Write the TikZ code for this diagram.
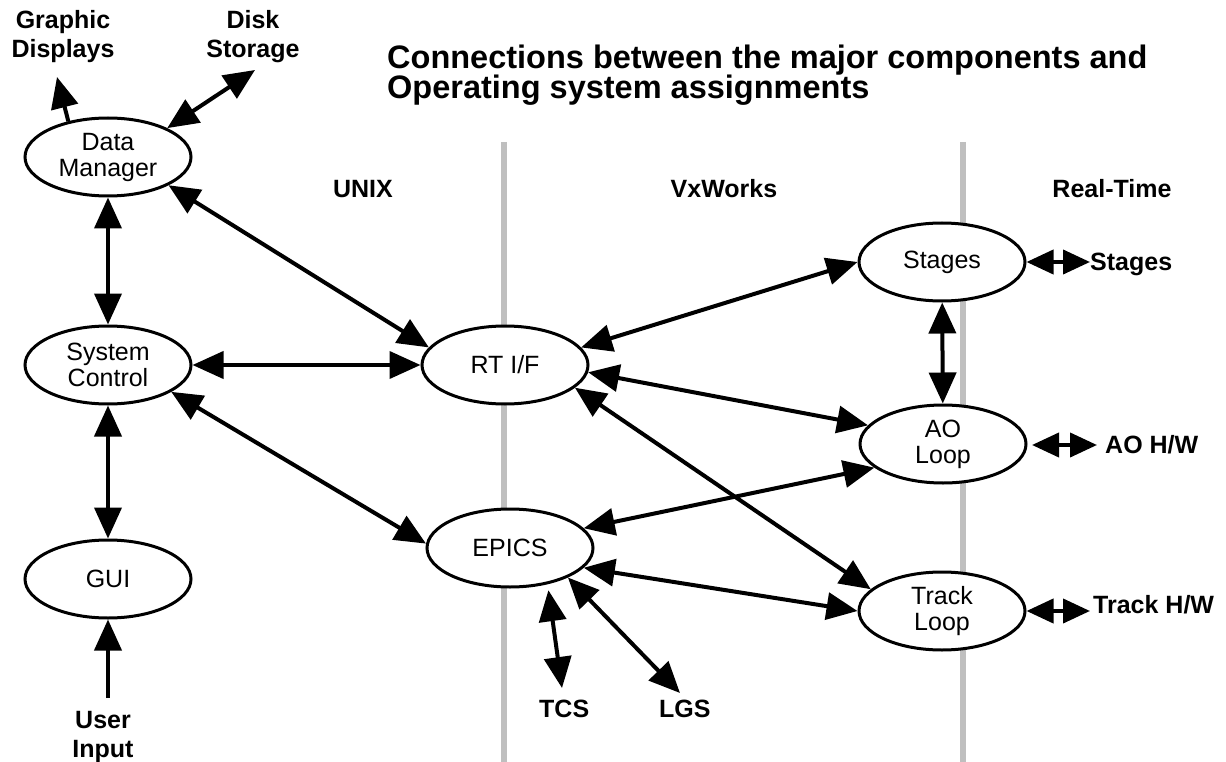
\documentclass[tikz,border=0pt]{standalone}
\usepackage{fontspec}
\setmainfont{Liberation Sans}
\usetikzlibrary{arrows.meta,shapes.geometric}
\begin{document}
\begin{tikzpicture}[x=1pt,y=-1pt,
  comp/.style={ellipse,draw,line width=3pt,fill=white,minimum width=166pt,minimum height=78pt,inner sep=0pt,align=center,font=\fontsize{25}{26}\selectfont},
  lbl/.style={font=\fontsize{25}{29}\selectfont\bfseries,align=center,inner sep=0pt},
  ttl/.style={font=\fontsize{32.5}{31}\selectfont\bfseries,inner sep=0pt,anchor=base west},
  conn/.style={line width=4pt,{Triangle[length=31pt,width=27pt]}-{Triangle[length=31pt,width=27pt]}},
  shortconn/.style={line width=4pt,{Triangle[length=27pt,width=24pt]}-{Triangle[length=27pt,width=24pt]}},
  oneway/.style={line width=4pt,-{Triangle[length=31pt,width=27pt]}},
  divider/.style={line width=6pt,draw=black!25}]
\useasboundingbox (0,0) rectangle (1226,762);

% dividers
\coordinate (d1t) at (504,142); \coordinate (d1b) at (504,762);
\coordinate (d2t) at (963,142); \coordinate (d2b) at (963,762);
\draw[divider] (d1t) -- (d1b);
\draw[divider] (d2t) -- (d2b);

% title
\node[ttl] (t1) at (387,69) {Connections between the major components and};
\node[ttl] (t2) at (387,99) {Operating system assignments};

% region labels
\node[lbl] (unix) at (363,189) {UNIX};
\node[lbl] (vx) at (724,189) {VxWorks};
\node[lbl] (rtm) at (1112,189) {Real-Time};

% components
\node[comp] (dm) at (108,157) {Data\\Manager};
\node[comp] (sc) at (108,365) {System\\Control};
\node[comp] (gui) at (108,579) {GUI};
\node[comp] (rt) at (505,365) {RT I/F};
\node[comp] (ep) at (510,548) {EPICS};
\node[comp] (st) at (942,262) {Stages};
\node[comp] (ao) at (943,444) {AO\\Loop};
\node[comp] (tr) at (942,611) {Track\\Loop};

% external labels
\node[lbl] (gd) at (63,37) {Graphic\\Displays};
\node[lbl] (ds) at (253,37) {Disk\\Storage};
\node[lbl] (ui) at (103,737) {User\\Input};
\node[lbl,anchor=base west] (sthw) at (1090,270) {Stages};
\node[lbl,anchor=base west] (aohw) at (1105,453) {AO H/W};
\node[lbl,anchor=base west] (trhw) at (1093,613) {Track H/W};
\node[lbl,anchor=base west] (tcs) at (539,717) {TCS};
\node[lbl,anchor=base west] (lgs) at (659,717) {LGS};

% free ends
\coordinate (gdtip) at (57,77);
\coordinate (dstip) at (255,70);
\coordinate (uitop) at (108,698);
\coordinate (tcstip) at (562,688);
\coordinate (lgstip) at (680,693);
\coordinate (sttip) at (1090,262);
\coordinate (aostart) at (1032,445);
\coordinate (aotip) at (1097,445);
\coordinate (trtip) at (1090,611);

% connectors
\draw[oneway] (dm.138) -- (gdtip);
\draw[conn] (dm.26) -- (dstip);
\draw[conn] (dm) -- (sc);
\draw[conn] (sc) -- (gui);
\draw[oneway] (uitop) -- (gui);
\draw[conn] (dm.-25) -- (rt.167);
\draw[conn] (sc) -- (rt);
\draw[conn] (sc.-23) -- (ep.177);
\draw[conn] (rt.13) -- (st.west);
\draw[conn] (rt.-5) -- (ao.166);
\draw[conn] (rt.-18) -- (tr.163);
\draw[conn] (ep.15) -- (ao.199);
\draw[conn] (ep.-15) -- (tr.west);
\draw[conn,shorten <=6pt] (ep.-44) -- (tcstip);
\draw[conn] (ep.-27) -- (lgstip);
\draw[conn] (st) -- (ao);
\draw[shortconn] (st.east) -- (sttip);
\draw[shortconn] (aostart) -- (aotip);
\draw[shortconn] (tr.east) -- (trtip);
\end{tikzpicture}
\end{document}
